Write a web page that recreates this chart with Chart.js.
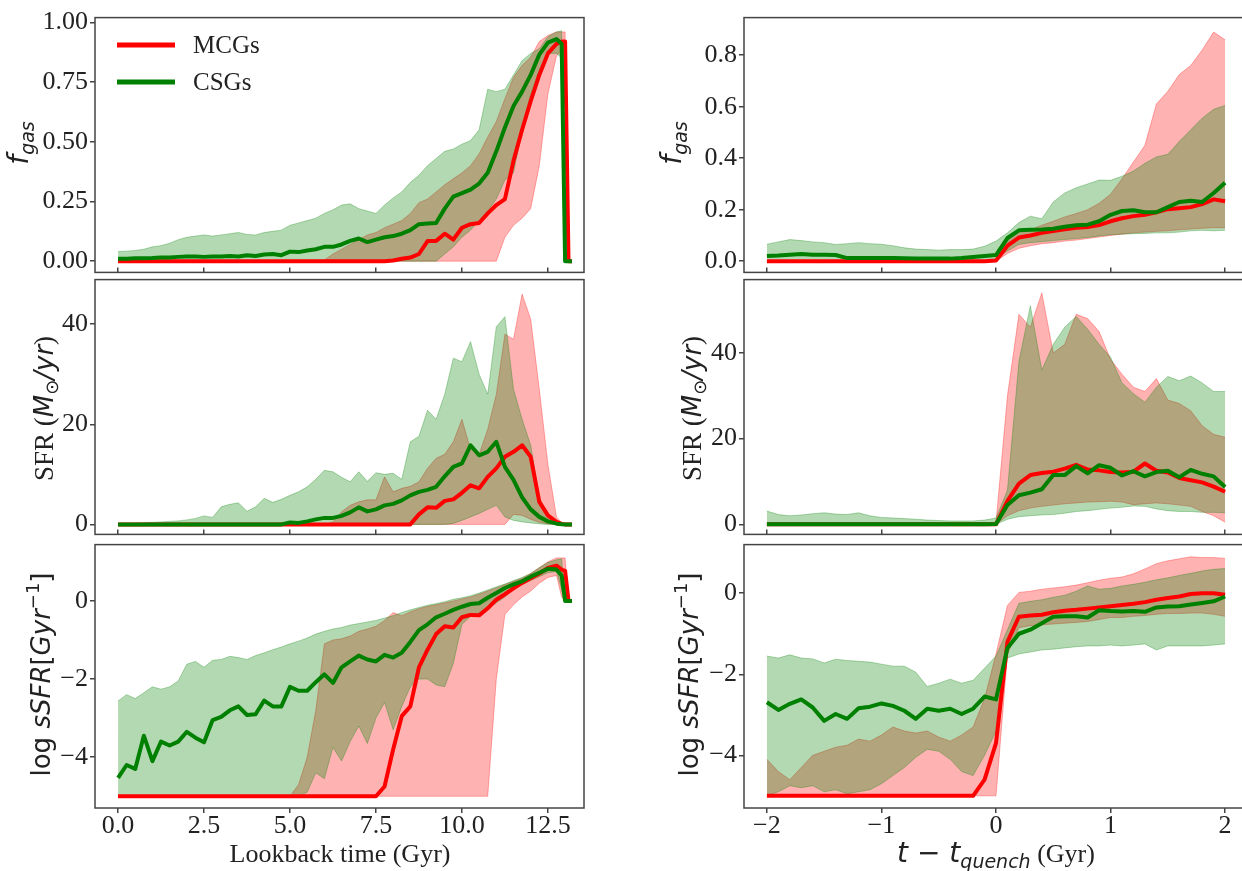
<!DOCTYPE html>
<html>
<head>
<meta charset="utf-8">
<script src="https://cdn.jsdelivr.net/npm/chart.js@4.4.1/dist/chart.umd.min.js"></script>
<style>
  html, body { margin: 0; padding: 0; background: #fff; overflow: hidden; }
  #wrap { position: relative; width: 1242px; height: 871px; overflow: hidden; }
</style>
</head>
<body>
<div id="wrap"></div>
<script>
// ---- left column: lookback time (Gyr) ----
const lookback = [
  0, 0.25, 0.5, 0.75, 1, 1.25, 1.5, 1.75, 2, 2.25, 2.5, 2.75, 3, 3.25, 3.5, 3.75,
  4, 4.25, 4.5, 4.75, 5, 5.25, 5.5, 5.75, 6, 6.25, 6.5, 6.75, 7, 7.25, 7.5, 7.75,
  8, 8.25, 8.5, 8.75, 9, 9.25, 9.5, 9.75, 10, 10.25, 10.5, 10.75, 11, 11.25, 11.5, 11.75,
  12, 12.25, 12.5, 12.75, 12.9, 13.0, 13.1, 13.2
];

// f_gas
const mcgGas = [
  0,0,0,0, 0,0,0,0, 0,0,0,0, 0,0,0,0, 0,0,0,0, 0,0,0,0, 0,0,0,0, 0,0,0,0,
  0.003,0.01,0.015,0.03, 0.084,0.085,0.115,0.09, 0.14,0.155,0.16,0.2, 0.235,0.26,0.42,0.55,
  0.67,0.78,0.87,0.91, 0.92,0.92,0,0
];
const csgGas = [
  0.01,0.01,0.012,0.012, 0.013,0.015,0.015,0.018, 0.02,0.02,0.018,0.02, 0.02,0.022,0.02,0.025,
  0.022,0.028,0.03,0.025, 0.04,0.038,0.045,0.05, 0.06,0.06,0.07,0.085, 0.095,0.08,0.09,0.1,
  0.105,0.115,0.13,0.155, 0.158,0.16,0.22,0.27, 0.285,0.3,0.325,0.37, 0.46,0.56,0.65,0.71,
  0.78,0.865,0.915,0.93, 0.91,0,0,0
];
const mcgGasLo = [
  0,0,0,0, 0,0,0,0, 0,0,0,0, 0,0,0,0, 0,0,0,0, 0,0,0,0, 0,0,0,0, 0,0,0,0,
  0,0,0,0, 0,0,0,0, 0,0,0,0, 0,0.1,0.15,0.18,
  0.22,0.4,0.7,0.86, 0.88,0.88,0,0
];
const mcgGasHi = [
  0,0,0,0, 0,0,0,0, 0,0,0,0, 0,0,0,0, 0,0,0,0, 0,0,0,0, 0.005,0.03,0.05,0.07, 0.09,0.11,0.12,0.14,
  0.155,0.17,0.2,0.245, 0.26,0.29,0.32,0.345, 0.37,0.4,0.45,0.52, 0.585,0.68,0.77,0.82,
  0.855,0.92,0.945,0.96, 0.96,0.96,0,0
];
const csgGasLo = [
  0,0,0,0, 0,0,0,0, 0,0,0,0, 0,0,0,0, 0,0,0,0, 0,0,0,0, 0,0,0,0, 0,0,0,0,
  0,0,0,0, 0,0,0.03,0.06, 0.1,0.13,0.17,0.21, 0.26,0.34,0.37,0.55,
  0.7,0.8,0.87,0.87, 0.85,0,0,0
];
const csgGasHi = [
  0.04,0.042,0.045,0.05, 0.06,0.065,0.075,0.09, 0.1,0.105,0.11,0.105, 0.11,0.115,0.12,0.112,
  0.11,0.12,0.125,0.13, 0.15,0.16,0.17,0.18, 0.2,0.215,0.235,0.24, 0.22,0.21,0.2,0.235,
  0.265,0.29,0.33,0.36, 0.4,0.43,0.46,0.47, 0.49,0.505,0.55,0.72, 0.71,0.72,0.78,0.84,
  0.87,0.89,0.94,0.96, 0.965,0,0,0
];

// SFR
const mcgSfr = [
  0,0,0,0, 0,0,0,0, 0,0,0,0, 0,0,0,0, 0,0,0,0, 0,0,0,0, 0,0,0,0, 0,0,0,0,
  0,0,0,2.0, 3.4,3.3,4.7,5.0, 6.3,7.8,7.2,9.5, 11.2,13.5,14.5,15.8,
  13.5,4.5,1.8,0.5, 0.1,0,0,0
];
const csgSfr = [
  0,0,0,0, 0,0,0,0, 0,0,0,0, 0,0,0,0, 0,0,0,0, 0.4,0.3,0.6,1.0, 1.3,1.3,1.7,2.4, 3.4,2.6,3.0,3.8,
  4.1,4.8,5.8,6.5, 6.9,7.5,9.6,11.5, 12.2,15.8,13.8,14.5, 16.5,11.5,8.9,5.4,
  3.0,1.5,0.6,0.15, 0.05,0,0,0
];
const mcgSfrLo = [
  0,0,0,0, 0,0,0,0, 0,0,0,0, 0,0,0,0, 0,0,0,0, 0,0,0,0, 0,0,0,0, 0,0,0,0,
  0,0,0,0, 0,0,0,0, 0,0,0,0, 0,0,2.0,1.8,
  1.0,0.4,0.1,0, 0,0,0,0
];
const mcgSfrHi = [
  0,0,0,0, 0,0,0,0, 0,0,0,0, 0,0,0,0, 0,0,0,0, 0,0,0,0, 0,0.5,2.5,3.8, 4.5,4.9,4.9,9.5,
  6.5,7.2,7.6,8.5, 11.2,13.2,14.0,16.5, 21.0,15.0,14.0,19.0, 26.0,38.0,37.0,46.0,
  41.0,27.0,12.0,1.5, 0.3,0,0,0
];
const csgSfrLo = [
  0,0,0,0, 0,0,0,0, 0,0,0,0, 0,0,0,0, 0,0,0,0, 0,0,0,0, 0,0,0,0, 0,0,0,0,
  0,0,0,0, 0,0,0,0.2, 0.8,1.5,2.2,3.0, 3.8,1.5,0.8,0.5,
  0.3,0.1,0,0, 0,0,0,0
];
const csgSfrHi = [
  0.1,0.1,0.2,0.3, 0.4,0.5,0.6,0.7, 0.9,1.2,1.7,1.4, 3.5,4.0,4.3,2.6,
  3.5,5.2,4.4,5.0, 5.8,6.5,7.5,9.0, 10.8,10.5,9.4,8.5, 10.5,8.6,10.3,10.0,
  10.2,9.0,16.5,17.6, 22.8,21.0,26.0,33.2, 32.5,36.5,30.0,26.0, 39.5,41.5,27.0,21.0,
  15.8,5.5,1.8,0.6, 0.2,0,0,0
];

// log sSFR
const mcgSsfr = [
  -5,-5,-5,-5, -5,-5,-5,-5, -5,-5,-5,-5, -5,-5,-5,-5, -5,-5,-5,-5, -5,-5,-5,-5, -5,-5,-5,-5, -5,-5,-5,-4.75,
  -3.8,-2.95,-2.7,-1.7, -1.25,-0.85,-0.65,-0.68, -0.42,-0.36,-0.37,-0.19, 0.03,0.17,0.32,0.46,
  0.58,0.7,0.84,0.9, 0.8,0.77,0,0
];
const csgSsfr = [
  -4.53,-4.2,-4.3,-3.45, -4.1,-3.6,-3.7,-3.6, -3.35,-3.5,-3.62,-3.05, -2.97,-2.8,-2.7,-2.92,
  -2.9,-2.55,-2.7,-2.7, -2.2,-2.3,-2.3,-2.08, -1.88,-2.1,-1.7,-1.55, -1.4,-1.5,-1.55,-1.38,
  -1.45,-1.33,-1.05,-0.75, -0.6,-0.42,-0.33,-0.23, -0.15,-0.08,-0.06,0.08, 0.2,0.33,0.42,0.5,
  0.62,0.72,0.82,0.8, 0.65,0,0,0
];
const mcgSsfrLo = [
  -5,-5,-5,-5, -5,-5,-5,-5, -5,-5,-5,-5, -5,-5,-5,-5, -5,-5,-5,-5, -5,-5,-5,-5, -5,-5,-5,-5, -5,-5,-5,-5,
  -5,-5,-5,-5, -5,-5,-5,-5, -5,-5,-5,-5, -2.0,-0.35,-0.1,0.1,
  0.25,0.45,0.6,0.65, 0.1,0,0,0
];
const mcgSsfrHi = [
  -5,-5,-5,-5, -5,-5,-5,-5, -5,-5,-5,-5, -5,-5,-5,-5, -5,-5,-5,-5, -5,-4.7,-4.0,-2.8, -1.1,-1.0,-0.97,-0.9, -0.78,-0.72,-0.65,-0.5,
  -0.3,-0.38,-0.28,-0.2, -0.14,-0.1,-0.05,0.0, 0.05,0.1,0.17,0.25, 0.33,0.42,0.5,0.58,
  0.7,0.85,1.0,1.1, 1.1,1.1,0,0
];
const csgSsfrLo = [
  -5,-5,-5,-5, -5,-5,-5,-5, -5,-5,-5,-5, -5,-5,-5,-5, -5,-5,-5,-5, -5,-5,-4.9,-4.4, -4.55,-3.75,-4.1,-3.6, -3.2,-3.65,-3.0,-2.6,
  -3.3,-2.7,-2.2,-2.0, -2.0,-2.15,-2.2,-1.6, -0.6,-0.4,-0.3,-0.2, -0.05,0.1,0.3,0.42,
  0.52,0.62,0.72,0.75, 0.3,0,0,0
];
const csgSsfrHi = [
  -2.56,-2.4,-2.5,-2.35, -2.2,-2.26,-2.2,-2.05, -1.62,-1.55,-1.7,-1.52, -1.5,-1.42,-1.45,-1.5,
  -1.4,-1.33,-1.25,-1.18, -1.1,-1.03,-0.95,-0.85, -0.78,-0.72,-0.68,-0.62, -0.58,-0.54,-0.5,-0.44,
  -0.38,-0.3,-0.23,-0.17, -0.11,-0.07,-0.02,0.04, 0.08,0.13,0.2,0.28, 0.36,0.43,0.52,0.6,
  0.7,0.85,0.98,1.05, 1.08,0,0,0
];

// ---- right column: t - t_quench (Gyr) ----
const quench = [
  -2.0,-1.9,-1.8,-1.7,-1.6,-1.5,-1.4,-1.3,-1.2,-1.1,
  -1.0,-0.9,-0.8,-0.7,-0.6,-0.5,-0.4,-0.3,-0.2,-0.1,
  0.0,0.1,0.2,0.3,0.4,0.5,0.6,0.7,0.8,0.9,
  1.0,1.1,1.2,1.3,1.4,1.5,1.6,1.7,1.8,1.9,
  2.0
];

const mcgGasQ = [
  0,0,0,0,0,0,0,0,0,0, 0,0,0,0,0,0,0,0,0,0,
  0.003,0.06,0.092,0.1,0.11,0.117,0.124,0.13,0.133,0.14,
  0.155,0.167,0.175,0.18,0.19,0.202,0.206,0.21,0.222,0.24, 0.233
];
const csgGasQ = [
  0.02,0.022,0.025,0.028,0.025,0.025,0.024,0.012,0.012,0.012,
  0.012,0.012,0.011,0.01,0.01,0.01,0.01,0.012,0.016,0.02,
  0.024,0.09,0.12,0.122,0.123,0.126,0.134,0.14,0.142,0.155,
  0.18,0.195,0.198,0.19,0.19,0.21,0.23,0.235,0.23,0.265, 0.305
];
const mcgGasQLo = [
  0,0,0,0,0,0,0,0,0,0, 0,0,0,0,0,0,0,0,0,0,
  0,0.03,0.05,0.06,0.068,0.072,0.078,0.082,0.088,0.094,
  0.1,0.105,0.11,0.113,0.116,0.118,0.122,0.125,0.128,0.13, 0.13
];
const mcgGasQHi = [
  0.002,0.002,0.002,0.002,0.002,0.002,0.002,0.002,0.002,0.002,
  0.002,0.002,0.002,0.002,0.002,0.002,0.002,0.002,0.002,0.002,
  0.005,0.08,0.115,0.122,0.14,0.155,0.172,0.185,0.2,0.225,
  0.26,0.32,0.385,0.45,0.61,0.66,0.725,0.76,0.82,0.89, 0.86
];
const csgGasQLo = [
  0,0,0,0,0,0,0,0,0,0, 0,0,0,0,0,0,0,0,0,0,
  0.01,0.04,0.065,0.072,0.076,0.08,0.084,0.088,0.092,0.098,
  0.103,0.105,0.107,0.108,0.11,0.11,0.113,0.118,0.12,0.118, 0.12
];
const csgGasQHi = [
  0.066,0.075,0.084,0.08,0.075,0.072,0.065,0.068,0.072,0.068,
  0.066,0.06,0.052,0.047,0.045,0.043,0.045,0.045,0.047,0.058,
  0.078,0.11,0.15,0.175,0.165,0.23,0.265,0.285,0.3,0.315,
  0.314,0.33,0.35,0.38,0.405,0.415,0.465,0.51,0.555,0.59, 0.605
];

const mcgSfrQ = [
  0,0,0,0,0,0,0,0,0,0, 0,0,0,0,0,0,0,0,0,0,
  0,5.5,9.5,11.5,12.0,12.3,13.0,13.9,12.8,12.6,
  12.2,12.1,12.3,14.2,12.5,12.1,10.8,10.3,9.8,8.8, 7.6
];
const csgSfrQ = [
  0,0,0,0,0,0,0,0,0,0, 0,0,0,0,0,0,0,0,0,0,
  0.1,4.5,6.8,7.4,8.2,11.5,11.5,13.6,11.9,13.8,
  13.2,11.4,12.4,11.2,12.2,12.5,11.0,12.7,11.8,11.2, 8.7
];
const mcgSfrQLo = [
  0,0,0,0,0,0,0,0,0,0, 0,0,0,0,0,0,0,0,0,0,
  0,2.0,3.2,3.8,4.2,4.5,4.8,5.0,5.2,5.3,
  5.4,5.2,4.6,4.8,5.0,4.8,4.5,4.2,3.0,2.0, 0.5
];
const mcgSfrQHi = [
  0.3,0.3,0.3,0.3,0.3,0.3,0.3,0.3,0.3,0.3,
  0.3,0.3,0.3,0.3,0.3,0.3,0.3,0.3,0.3,0.3,
  0.5,30,49,46,54,40,42,49,48,45,
  38.5,35,32,31,34,29,28.2,26.5,23,21, 20.3
];
const csgSfrQLo = [
  0,0,0,0,0,0,0,0,0,0, 0,0,0,0,0,0,0,0,0,0,
  0,1.2,1.8,2.0,2.2,2.3,2.6,3.0,3.2,3.5,
  3.8,4.0,4.3,4.2,3.6,3.2,3.0,3.0,2.8,2.8, 2.7
];
const csgSfrQHi = [
  3.1,2.3,2.0,2.2,2.5,2.7,2.4,2.3,2.7,2.0,
  1.6,1.5,1.35,1.2,1.0,0.9,0.8,0.8,0.8,1.0,
  1.5,8,38,51,36,42,46,48.5,45.5,42,
  39,33,30.5,28.5,32,34.5,33.5,34.6,33,31, 31
];

const mcgSsfrQ = [
  -5,-5,-5,-5,-5,-5,-5,-5,-5,-5,
  -5,-5,-5,-5,-5,-5,-5,-5,-5,-4.6,
  -3.7,-1.2,-0.58,-0.55,-0.53,-0.47,-0.43,-0.41,-0.38,-0.35,
  -0.32,-0.29,-0.26,-0.22,-0.16,-0.12,-0.08,-0.02,0.0,0.0, -0.04
];
const csgSsfrQ = [
  -2.69,-2.88,-2.73,-2.62,-2.82,-3.15,-2.98,-3.1,-2.84,-2.8,
  -2.72,-2.78,-2.9,-3.1,-2.85,-2.9,-2.85,-2.98,-2.85,-2.55,
  -2.62,-1.35,-1.0,-0.9,-0.74,-0.58,-0.57,-0.57,-0.6,-0.42,
  -0.44,-0.45,-0.44,-0.46,-0.35,-0.33,-0.32,-0.28,-0.24,-0.2, -0.08
];
const mcgSsfrQLo = [
  -5,-5,-5,-5,-5,-5,-5,-5,-5,-5,
  -5,-5,-5,-5,-5,-5,-5,-5,-5,-5,
  -5,-1.5,-0.85,-0.8,-0.78,-0.76,-0.74,-0.72,-0.7,-0.65,
  -0.6,-0.6,-0.57,-0.55,-0.52,-0.5,-0.5,-0.49,-0.49,-0.52, -0.57
];
const mcgSsfrQHi = [
  -4.1,-4.4,-4.6,-4.3,-4.0,-3.9,-3.8,-3.75,-3.6,-3.65,
  -3.5,-3.3,-3.4,-3.45,-3.4,-3.55,-3.65,-3.5,-3.3,-2.6,
  -1.5,-0.3,0.02,0.05,0.1,0.13,0.16,0.2,0.26,0.32,
  0.37,0.4,0.48,0.6,0.73,0.8,0.85,0.9,0.88,0.88, 0.86
];
const csgSsfrQLo = [
  -5,-4.9,-4.75,-4.8,-4.75,-4.9,-4.85,-4.95,-4.9,-4.85,
  -4.7,-4.5,-4.3,-4.05,-3.85,-3.9,-4.1,-4.4,-4.5,-4.0,
  -3.4,-1.6,-1.5,-1.45,-1.4,-1.38,-1.35,-1.32,-1.3,-1.3,
  -1.28,-1.3,-1.28,-1.25,-1.4,-1.3,-1.3,-1.3,-1.3,-1.28, -1.25
];
const csgSsfrQHi = [
  -1.55,-1.6,-1.52,-1.6,-1.62,-1.72,-1.63,-1.66,-1.68,-1.7,
  -1.75,-1.8,-1.8,-1.95,-2.3,-2.22,-2.12,-2.22,-2.15,-1.85,
  -1.55,-0.9,-0.25,-0.2,-0.16,-0.1,-0.05,0.05,0.18,0.1,
  0.12,0.18,0.22,0.27,0.33,0.38,0.44,0.49,0.55,0.59, 0.61
];

// ---- drawing ----
const RED = '#ff0000', GREEN = '#008000';
const RED_BAND = 'rgba(255,0,0,0.3)', GREEN_BAND = 'rgba(0,128,0,0.3)';
const INK = '#222', SPINE = '#444';
const SERIF = '"Liberation Serif", "Times New Roman", serif';
const SANS = '"DejaVu Sans", sans-serif';
const wrap = document.getElementById('wrap');

const pts = (xs, ys) => xs.map((x, i) => ({x: x, y: ys[i]}));
const minus = v => String(v).replace('-', '\u2212');

function lineSet(label, xs, ys, color, order) {
  return {label, data: pts(xs, ys), borderColor: color, backgroundColor: color, borderWidth: 4,
          borderJoinStyle: 'round', pointRadius: 0, fill: false, order};
}
function edgeSet(xs, ys, color, order, fill) {
  return {label: '', data: pts(xs, ys), borderColor: color, backgroundColor: color, borderWidth: 1,
          pointRadius: 0, fill, order};
}

// box round the plot area, like matplotlib spines
const framePlugin = {
  id: 'frame',
  afterDraw(chart) {
    const {ctx, chartArea: a} = chart;
    ctx.save();
    ctx.strokeStyle = SPINE;
    ctx.lineWidth = 1.5;
    ctx.strokeRect(a.left, a.top, a.right - a.left, a.bottom - a.top);
    ctx.restore();
  }
};

// axis titles with sub/superscripts
function richPlugin(items) {
  return {
    id: 'rich',
    afterDraw(chart) {
      const ctx = chart.ctx;
      items.forEach(it => {
        ctx.save();
        ctx.translate(it.x, it.y);
        if (it.rotate) ctx.rotate(-Math.PI / 2);
        ctx.fillStyle = INK;
        ctx.textBaseline = 'alphabetic';
        ctx.textAlign = 'left';
        let w = 0;
        it.parts.forEach(p => { ctx.font = p.font; w += ctx.measureText(p.text).width; });
        let x = -w / 2;
        it.parts.forEach(p => {
          ctx.font = p.font;
          ctx.fillText(p.text, x, 9 + (p.dy || 0));
          x += ctx.measureText(p.text).width;
        });
        ctx.restore();
      });
    }
  };
}

// legend inside the first panel
function legendPlugin(pos) {
  return {
    id: 'insideLegend',
    afterDraw(chart) {
      const ctx = chart.ctx;
      chart.data.datasets.slice(0, 2).forEach((d, i) => {
        const y = pos.y + i * pos.dy;
        ctx.save();
        ctx.strokeStyle = d.borderColor;
        ctx.lineWidth = 5;
        ctx.beginPath();
        ctx.moveTo(pos.x, y);
        ctx.lineTo(pos.x + pos.len, y);
        ctx.stroke();
        ctx.fillStyle = INK;
        ctx.font = '25px ' + SERIF;
        ctx.textBaseline = 'middle';
        ctx.fillText(d.label, pos.x + pos.len + 18, y + 1);
        ctx.restore();
      });
    }
  };
}

function panel(p) {
  const cv = document.createElement('canvas');
  cv.width = p.w; cv.height = p.h;
  cv.style.cssText = 'position:absolute;left:' + p.left + 'px;top:' + p.top + 'px;width:' + p.w + 'px;height:' + p.h + 'px';
  wrap.appendChild(cv);

  const yw = p.area.l - p.left;
  const xh = p.xLabels ? 34 : 0;
  const padR = p.left + p.w - p.area.r;
  const padT = p.area.t - p.top;
  const padB = p.top + p.h - p.area.b - xh;

  const items = p.titles.map(t => Object.assign({}, t, {x: t.x - p.left, y: t.y - p.top}));
  const plugins = [framePlugin, richPlugin(items)];
  if (p.legend) plugins.push(legendPlugin({x: p.legend.x - p.left, y: p.legend.y - p.top, dy: p.legend.dy, len: p.legend.len}));

  const tickFont = {family: SERIF, size: 26};
  return new Chart(cv, {
    type: 'line',
    data: {
      datasets: [
        lineSet('MCGs', p.xs, p.mcg, RED, 2),
        lineSet('CSGs', p.xs, p.csg, GREEN, 1),
        edgeSet(p.xs, p.mcgLo, RED_BAND, 4, false),
        edgeSet(p.xs, p.mcgHi, RED_BAND, 4, '-1'),
        edgeSet(p.xs, p.csgLo, GREEN_BAND, 3, false),
        edgeSet(p.xs, p.csgHi, GREEN_BAND, 3, '-1')
      ]
    },
    options: {
      responsive: false,
      animation: false,
      devicePixelRatio: 1,
      layout: {padding: {left: 0, right: padR, top: padT, bottom: padB}},
      plugins: {legend: {display: false}, tooltip: {enabled: false}},
      scales: {
        x: {
          type: 'linear', min: p.xMin, max: p.xMax,
          afterFit: s => { s.height = xh; },
          border: {display: false},
          grid: {drawOnChartArea: false, drawTicks: true, tickLength: p.xLabels ? 5 : -5, color: SPINE, lineWidth: 1.5},
          ticks: {display: p.xLabels, stepSize: p.xStep, includeBounds: false, autoSkip: false, maxRotation: 0,
                  padding: -2, color: INK, font: tickFont, callback: p.xFmt}
        },
        y: {
          min: p.yMin, max: p.yMax,
          afterFit: s => { s.width = yw; },
          border: {display: false},
          grid: {drawOnChartArea: false, drawTicks: true, tickLength: 5, color: SPINE, lineWidth: 1.5},
          ticks: {stepSize: p.yStep, includeBounds: false, autoSkip: false, padding: 2, color: INK,
                  font: tickFont, callback: p.yFmt}
        }
      }
    },
    plugins: plugins
  });
}

const F_GAS = [{text: 'f', font: 'italic 28px ' + SANS}, {text: 'gas', font: 'italic 19px ' + SANS, dy: 6}];
const SFR = [
  {text: 'SFR (', font: '27px ' + SERIF},
  {text: 'M', font: 'italic 26px ' + SANS},
  {text: '\u2299', font: '18px ' + SANS, dy: 5},
  {text: '/yr', font: 'italic 26px ' + SANS},
  {text: ')', font: '27px ' + SERIF}
];
const SSFR = [
  {text: 'log ', font: '26px ' + SANS},
  {text: 'sSFR', font: 'italic 26px ' + SANS},
  {text: '[', font: '26px ' + SANS},
  {text: 'Gyr', font: 'italic 26px ' + SANS},
  {text: '\u22121', font: '18px ' + SANS, dy: -11},
  {text: ']', font: '26px ' + SANS}
];
const X_LEFT = [{text: 'Lookback time (Gyr)', font: '26px ' + SERIF}];
const X_RIGHT = [
  {text: 't', font: 'italic 28px ' + SANS},
  {text: ' \u2212 ', font: '28px ' + SANS},
  {text: 't', font: 'italic 28px ' + SANS},
  {text: 'quench', font: 'italic 19px ' + SANS, dy: 6},
  {text: ' (Gyr)', font: '26px ' + SERIF}
];

const rows = [
  {top: 0, h: 290, area: {t: 10, b: 276}},
  {top: 262, h: 290, area: {t: 276, b: 541}},
  {top: 527, h: 344, area: {t: 541, b: 808}}
];
const cols = [
  {left: 0, w: 600, l: 95, r: 584, xs: lookback, xMin: -0.67, xMax: 13.55, xStep: 2.5,
   xFmt: v => v.toFixed(1), xTitle: X_LEFT, tx: 340, ty: [19, 44, 41]},
  {left: 640, w: 620, l: 744, r: 1248, xs: quench, xMin: -2.2, xMax: 2.2, xStep: 1,
   xFmt: v => minus(v), xTitle: X_RIGHT, tx: 996, ty: [672, 692, 689]}
];

const panels = [
  // left column
  {c: 0, r: 0, mcg: mcgGas, csg: csgGas, mcgLo: mcgGasLo, mcgHi: mcgGasHi, csgLo: csgGasLo, csgHi: csgGasHi,
   yMin: -0.047, yMax: 1.02, yStep: 0.25, yFmt: v => v.toFixed(2), yTitle: F_GAS,
   legend: {x: 117, y: 45, dy: 37, len: 58}},
  {c: 0, r: 1, mcg: mcgSfr, csg: csgSfr, mcgLo: mcgSfrLo, mcgHi: mcgSfrHi, csgLo: csgSfrLo, csgHi: csgSfrHi,
   yMin: -2.0, yMax: 48.9, yStep: 20, yFmt: v => String(v), yTitle: SFR},
  {c: 0, r: 2, mcg: mcgSsfr, csg: csgSsfr, mcgLo: mcgSsfrLo, mcgHi: mcgSsfrHi, csgLo: csgSsfrLo, csgHi: csgSsfrHi,
   yMin: -5.3, yMax: 1.44, yStep: 2, yFmt: v => minus(v), yTitle: SSFR},
  // right column
  {c: 1, r: 0, mcg: mcgGasQ, csg: csgGasQ, mcgLo: mcgGasQLo, mcgHi: mcgGasQHi, csgLo: csgGasQLo, csgHi: csgGasQHi,
   yMin: -0.0435, yMax: 0.946, yStep: 0.2, yFmt: v => v.toFixed(1), yTitle: F_GAS},
  {c: 1, r: 1, mcg: mcgSfrQ, csg: csgSfrQ, mcgLo: mcgSfrQLo, mcgHi: mcgSfrQHi, csgLo: csgSfrQLo, csgHi: csgSfrQHi,
   yMin: -2.34, yMax: 57.1, yStep: 20, yFmt: v => String(v), yTitle: SFR},
  {c: 1, r: 2, mcg: mcgSsfrQ, csg: csgSsfrQ, mcgLo: mcgSsfrQLo, mcgHi: mcgSsfrQHi, csgLo: csgSsfrQLo, csgHi: csgSsfrQHi,
   yMin: -5.3, yMax: 1.2, yStep: 2, yFmt: v => minus(v), yTitle: SSFR}
];

panels.forEach(pn => {
  const col = cols[pn.c], row = rows[pn.r];
  const bottom = pn.r === 2;
  const titles = [{parts: pn.yTitle, rotate: true, x: col.ty[pn.r], y: (row.area.t + row.area.b) / 2}];
  if (bottom) titles.push({parts: col.xTitle, rotate: false, x: col.tx, y: 853});
  panel({
    left: col.left, w: col.w, top: row.top, h: row.h,
    area: {l: col.l, r: col.r, t: row.area.t, b: row.area.b},
    xs: col.xs, xMin: col.xMin, xMax: col.xMax, xStep: col.xStep, xFmt: col.xFmt, xLabels: bottom,
    mcg: pn.mcg, csg: pn.csg, mcgLo: pn.mcgLo, mcgHi: pn.mcgHi, csgLo: pn.csgLo, csgHi: pn.csgHi,
    yMin: pn.yMin, yMax: pn.yMax, yStep: pn.yStep, yFmt: pn.yFmt,
    titles: titles, legend: pn.legend
  });
});
</script>
</body>
</html>
